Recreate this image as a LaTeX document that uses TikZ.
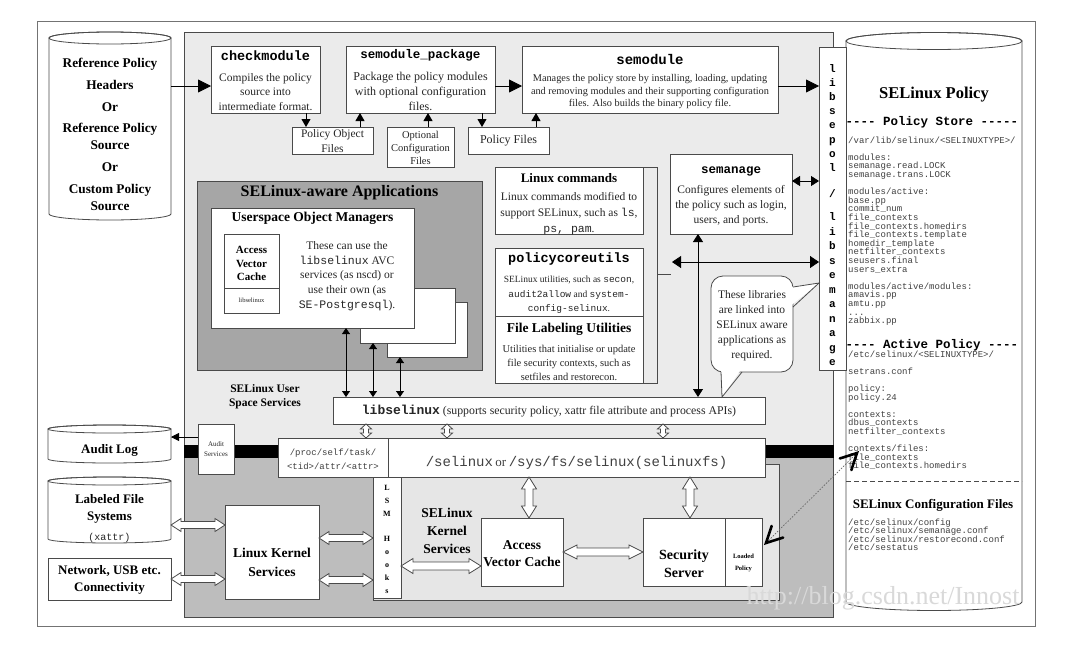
\documentclass[tikz,border=0pt]{standalone}
\usepackage{fontspec}
\setmainfont{Liberation Serif}
\setmonofont{Liberation Mono}
\usetikzlibrary{arrows.meta,calc}
\definecolor{usr}{HTML}{EBEBEB}
\definecolor{app}{HTML}{A6A6A6}
\definecolor{krn}{HTML}{BDBDBD}
\definecolor{kin}{HTML}{E6E6E6}
\definecolor{ln}{HTML}{4A4A4A}
\newcommand{\fs}[2]{\fontsize{#1}{#2}\selectfont}
\newcommand{\bxn}[6][]{\node[bx,#1,minimum width={#5pt-#3pt},minimum height={#6pt-#4pt}] (#2) at ({(#3+#5)/2},{(#4+#6)/2}) {};}
\newcommand{\cyl}[6]{%
 \path[fill=white,draw=ln,line width=0.8pt] (#2,#4) -- (#2,#5) arc[start angle=180,end angle=0,x radius={(#3-#2)/2},y radius=#6] -- (#3,#4) arc[start angle=0,end angle=-180,x radius={(#3-#2)/2},y radius=#6] -- cycle;
 \draw[ln,line width=0.8pt] ({(#2+#3)/2},#4) ellipse[x radius={(#3-#2)/2},y radius=#6];
 \node[inner sep=0pt,outer sep=0pt,minimum width={#3pt-#2pt},minimum height={#5pt-#4pt+2*#6pt}] (#1) at ({(#2+#3)/2},{(#4+#5)/2}) {};}
\newcommand{\hollow}[5]{%
 \coordinate (hA) at (#1);\coordinate (hB) at (#2);
 \filldraw[fill=white,draw=ln,line width=0.8pt,line join=miter]
 (hA) -- ($(hA)!#3!(hB)!#4!90:(hB)$) -- ($(hA)!#3!(hB)!#5!90:(hB)$)
 -- ($(hB)!#3!(hA)!#5!-90:(hA)$) -- ($(hB)!#3!(hA)!#4!-90:(hA)$)
 -- (hB) -- ($(hB)!#3!(hA)!#4!90:(hA)$) -- ($(hB)!#3!(hA)!#5!90:(hA)$)
 -- ($(hA)!#3!(hB)!#5!-90:(hB)$) -- ($(hA)!#3!(hB)!#4!-90:(hB)$) -- cycle;}
\begin{document}
\begin{tikzpicture}[x=1pt,y=-1pt,
 bx/.style={draw=ln,fill=white,line width=0.8pt,inner sep=0pt,outer sep=0pt},
 tx/.style={inner sep=0pt,align=center,text=black!85},
 ttl/.style={inner sep=0pt,align=center,text=black},
 lst/.style={inner sep=0pt,anchor=base west,text=black!75,font=\ttfamily\fs{9}{9}},
 vlet/.style={inner sep=0pt,anchor=base,font=\ttfamily\bfseries\fs{11}{11}},
 arrB/.style={draw=black,line width=0.8pt,-{Triangle[length=13pt,width=13pt]}},
 arrS/.style={draw=black,line width=0.8pt,-{Triangle[length=8pt,width=9pt]}},
 darrM/.style={draw=black,line width=0.8pt,{Triangle[length=9pt,width=12pt]}-{Triangle[length=9pt,width=12pt]}},
 darrV/.style={draw=black,line width=0.8pt,{Triangle[length=8pt,width=10pt]}-{Triangle[length=8pt,width=10pt]}},
 darrS/.style={draw=black,line width=0.8pt,{Triangle[length=6pt,width=8pt]}-{Triangle[length=6pt,width=8pt]}},
 vhead/.style={draw=black,line width=2.6pt,line join=miter,line cap=round}]
\useasboundingbox (0,0) rectangle (1071,648);
\fill[white] (0,0) rectangle (1071,648);
% frames and regions
\bxn[draw=black!55,line width=1pt]{frame}{37}{21}{1035}{626}
\bxn[fill=usr]{usrsp}{184}{32}{833}{617}
\bxn[fill=krn]{kern}{184}{457}{833}{617}
\bxn[fill=black,draw=black]{bar}{184}{445}{833}{457}
\bxn[fill=kin]{kinr}{373}{464}{779}{600}
% left cylinders
\cyl{refc}{49}{171}{38}{214}{6}
\node[ttl,font=\bfseries\fs{13.3}{17}] (reftx) at (110,134.5) {Reference Policy\\[5pt]Headers\\[5pt]Or\\[4pt]Reference Policy\\Source\\[5pt]Or\\[5pt]Custom Policy\\Source};
\cyl{alog}{48}{171}{429}{459}{4}
\node[ttl,font=\bfseries\fs{13}{16}] (alogt) at (109.5,450) {Audit Log};
\cyl{lfs}{48}{171}{481}{539}{4}
\node[ttl,font=\bfseries\fs{13}{17}] (lfst) at (109.5,508.5) {Labeled File\\Systems};
\node[tx,font=\ttfamily\fs{10}{12}] (lfsx) at (109.5,538) {(xattr)};
\bxn{net}{48}{558}{171}{600}
\node[ttl,font=\bfseries\fs{13}{17}] (nett) at (109.5,580) {Network, USB etc.\\Connectivity};
% policy cylinder
\cyl{pol}{846}{1022}{41}{602}{8.5}
\node[ttl,font=\bfseries\fs{16.5}{18}] (polt) at (934,95) {SELinux Policy};
\node[ttl,font=\ttfamily\bfseries\fs{12.5}{14}] (pstore) at (932,122) {---- Policy Store -----};
\foreach \t [count=\i from 0] in {{/var/lib/selinux/<SELINUXTYPE>/},{},{modules:},{semanage.read.LOCK},{semanage.trans.LOCK},{},{modules/active:},{base.pp},{commit\_num},{file\_contexts},{file\_contexts.homedirs},{file\_contexts.template},{homedir\_template},{netfilter\_contexts},{seusers.final},{users\_extra},{},{modules/active/modules:},{amavis.pp},{amtu.pp},{.\kern0pt.\kern0pt.},{zabbix.pp}}
 \node[lst] (la\i) at (848,{143+\i*8.6}) {\t};
\node[ttl,font=\ttfamily\bfseries\fs{12.5}{14}] (pact) at (932,345) {---- Active Policy ----};
\foreach \t [count=\i from 0] in {{/etc/selinux/<SELINUXTYPE>/},{},{setrans.conf},{},{policy:},{policy.24},{},{contexts:},{dbus\_contexts},{netfilter\_contexts},{},{contexts/files:},{file\_contexts},{file\_contexts.homedirs}}
 \node[lst] (lb\i) at (848,{357+\i*8.6}) {\t};
\draw[ln,line width=0.8pt,dash pattern=on 5pt off 3pt] (pol.west |- 0,481) -- (pol.east |- 0,481);
\node[ttl,font=\bfseries\fs{13}{15}] (cfgt) at (933,505) {SELinux Configuration Files};
\foreach \t [count=\i from 0] in {{/etc/selinux/config},{/etc/selinux/semanage.conf},{/etc/selinux/restorecond.conf},{/etc/sestatus}}
 \node[lst] (lc\i) at (848,{525+\i*8.6}) {\t};
% libsepol / libsemanage
\bxn{lsp}{819}{47}{846}{370}
\foreach \ch [count=\i from 0] in {l,i,b,s,e,p,o,l}
 \node[vlet] (lspa\i) at (832.5,{72.5+\i*14.1}) {\ch};
\node[vlet] (lspsl) at (832.5,197.5) {/};
\foreach \ch [count=\i from 0] in {l,i,b,s,e,m,a,n,a,g,e}
 \node[vlet] (lspb\i) at (832.5,{220.5+\i*14.5}) {\ch};
% top tool chain
\bxn{chk}{211}{46}{320}{113}
\node[ttl,font=\ttfamily\bfseries\fs{13.5}{16}] (chkt) at (265.5,56) {checkmodule};
\node[tx,font=\fs{11.5}{14.5}] (chkb) at (265.5,92) {Compiles the policy\\source into\\intermediate format.};
\bxn{smp}{346}{46}{495}{113}
\node[ttl,font=\ttfamily\bfseries\fs{12.5}{16}] (smpt) at (420.5,55) {semodule\_package};
\node[tx,font=\fs{12}{15}] (smpb) at (420.5,91) {Package the policy modules\\with optional configuration\\files.};
\bxn{smd}{522}{46}{778}{113}
\node[ttl,font=\ttfamily\bfseries\fs{14}{16}] (smdt) at (650,59) {semodule};
\node[tx,font=\fs{10.3}{12.5}] (smdb) at (650,92) {Manages the policy store by installing, loading, updating\\and removing modules and their supporting configuration\\files. Also builds the binary policy file.};
\bxn{pof}{292}{127}{373}{154}
\node[tx,font=\fs{11.5}{15}] (poft) at (332.5,141) {Policy Object\\Files};
\bxn{ocf}{387}{127}{454}{167}
\node[tx,font=\fs{10.5}{13}] (ocft) at (420.5,148) {Optional\\Configuration\\Files};
\bxn{pf}{468}{127}{549}{154}
\node[tx,font=\fs{12}{14}] (pft) at (508.5,141) {Policy Files};
% SELinux-aware applications
\bxn[fill=app]{apps}{197}{181}{482}{370}
\node[ttl,font=\bfseries\fs{16}{18}] (appst) at (339.5,193) {SELinux-aware Applications};
\bxn{bk3}{387}{302}{467}{357}
\bxn{bk2}{360}{288}{455}{343}
\bxn{uom}{211}{208}{414}{328}
\node[ttl,font=\bfseries\fs{13.5}{16}] (uomt) at (312.5,218) {Userspace Object Managers};
\bxn{uavc}{224}{234}{279}{313}
\draw[ln,line width=0.8pt] (uavc.west |- 0,288) -- (uavc.east |- 0,288);
\node[ttl,font=\bfseries\fs{11}{13.5}] (uavct) at (251.5,263.5) {Access\\Vector\\Cache};
\node[tx,font=\fs{6.5}{8}] (uavcl) at (251.5,300) {libselinux};
\node[tx,font=\fs{11.5}{14.75}] (uomb) at (347,276) {These can use the\\{\ttfamily libselinux} AVC\\services (as nscd) or\\use their own (as\\{\ttfamily SE-Postgresql}).};
% commands group
\node[inner sep=0pt,outer sep=0pt,minimum width=162pt,minimum height=216pt] (cgrp) at (576,275) {};
\draw[ln,line width=0.8pt] (cgrp.north west) -- (cgrp.north east) -- (cgrp.south east) -- (cgrp.south west);
\coordinate (ctick) at (671,274);
\draw[ln,line width=0.8pt] (cgrp.east |- ctick) -- (ctick);
\bxn{lcmd}{495}{167}{643}{234}
\node[ttl,font=\bfseries\fs{13}{15}] (lcmdt) at (569,178) {Linux commands};
\node[tx,font=\fs{11.5}{16}] (lcmdb) at (569,213.5) {Linux commands modified to\\support SELinux, such as {\ttfamily ls},\\{\ttfamily ps, pam}.};
\bxn{pcu}{495}{248}{643}{316}
\node[ttl,font=\ttfamily\bfseries\fs{13.5}{16}] (pcut) at (569,259) {policycoreutils};
\node[tx,font=\fs{9.5}{14.5}] (pcub) at (569,295) {SELinux utilities, such as {\ttfamily secon},\\{\ttfamily audit2allow} and {\ttfamily system-}\\{\ttfamily config-selinux}.};
\bxn{flu}{495}{316}{643}{383}
\node[ttl,font=\bfseries\fs{13.5}{16}] (flut) at (569,329) {File Labeling Utilities};
\node[tx,font=\fs{10.5}{14}] (flub) at (569,362.5) {Utilities that initialise or update\\file security contexts, such as\\setfiles and restorecon.};
% semanage
\bxn{sem}{670}{154}{792}{234}
\node[ttl,font=\ttfamily\bfseries\fs{12.5}{14}] (semt) at (731,171) {semanage};
\node[tx,font=\fs{11.5}{15}] (semb) at (731,205.5) {Configures elements of\\the policy such as login,\\users, and ports.};
% libselinux, proc, selinuxfs
\node[ttl,font=\bfseries\fs{11.5}{14}] (usst) at (265,397) {SELinux User\\Space Services};
\bxn{lsel}{333}{397}{765}{424}
\node[tx,font=\fs{11.8}{13}] (lselt) at (549,411) {{\ttfamily\bfseries\fs{13}{13}libselinux} (supports security policy, xattr file attribute and process APIs)};
\bxn{proc}{278}{438}{388}{477}
\node[tx,font=\ttfamily\fs{9}{14},text=black!75] (proct) at (333,459) {/proc/self/task/\\<tid>/attr/<attr>};
\bxn{sfs}{388}{438}{765}{477}
\node[tx,text=black!75] (sfst) at (576.5,463) {{\ttfamily\fs{14}{16}/selinux} {\fs{13}{16}or} {\ttfamily\fs{14}{16}/sys/fs/selinux(selinuxfs)}};
\bxn{aud}{198}{424}{234}{474}
\node[tx,font=\fs{7}{10}] (audt) at (216,449) {Audit\\Services};
% speech bubble
\node[bx,rounded corners=12pt,minimum width=82pt,minimum height=96pt] (bub) at (752,324) {};
\coordinate (tipR) at (lsp.west |- 0,283);
\coordinate (tipB) at (lsel.north -| 722,0);
\fill[white] (789,287) -- (tipR) -- (789,307) -- cycle;
\draw[ln,line width=0.8pt] (bub.east |- 0,287) -- (tipR) -- (bub.east |- 0,307);
\fill[white] (721,368) -- (tipB) -- (742,368) -- cycle;
\draw[ln,line width=0.8pt] (721,371.8) -- (tipB) -- (742,372);
\node[tx,font=\fs{11.5}{15}] (bubt) at (752,326) {These libraries\\are linked into\\SELinux aware\\applications as\\required.};
% kernel
\bxn{lks}{225}{505}{319}{599}
\node[ttl,font=\bfseries\fs{13.5}{19}] (lkst) at (272,562.5) {Linux Kernel\\Services};
\bxn{lsm}{373}{477}{401}{598}
\foreach \ch/\yy in {L/490,S/503,M/516,H/541,o/554,o/567,k/580,s/593}
 \node[inner sep=0pt,anchor=base,font=\bfseries\fs{8}{8}] (lsm\yy) at (387,\yy) {\ch};
\node[ttl,font=\bfseries\fs{13.5}{18}] (skst) at (447,531) {SELinux\\Kernel\\Services};
\bxn{avc}{481}{518}{563}{586}
\node[ttl,font=\bfseries\fs{13.5}{17}] (avct) at (522,553.5) {Access\\Vector Cache};
\bxn{ss}{643}{518}{725}{586}
\node[ttl,font=\bfseries\fs{14}{18}] (sst) at (684,564) {Security\\Server};
\bxn{lp}{725}{518}{762}{586}
\node[ttl,font=\bfseries\fs{6.5}{12}] (lpt) at (743.5,563) {Loaded\\Policy};
% solid arrows
\draw[arrB] (refc.east |- 0,86) -- (chk.west |- 0,86);
\draw[arrB] (smp.east |- 0,86) -- (smd.west |- 0,86);
\draw[arrB] (smd.east |- 0,86) -- (lsp.west |- 0,86);
\draw[arrS] (chk.south -| 306,0) -- (pof.north -| 306,0);
\draw[arrS] (pof.north -| 360,0) -- (smp.south -| 360,0);
\draw[arrS] (ocf.north -| 428,0) -- (smp.south -| 428,0);
\draw[arrS] (smp.south -| 482,0) -- (pf.north -| 482,0);
\draw[arrS] (pf.north -| 536,0) -- (smd.south -| 536,0);
\draw[darrV] (sem.east |- 0,181) -- (lsp.west |- 0,181);
\coordinate (cbrk) at (672,262);
\draw[darrM] (cbrk) -- (lsp.west |- cbrk);
\draw[darrV] (sem.south -| 698,0) -- (lsel.north -| 698,0);
\draw[darrS] (uom.south -| 346,0) -- (lsel.north -| 346,0);
\draw[darrS] (bk2.south -| 373,0) -- (lsel.north -| 373,0);
\draw[darrS] (bk3.south -| 400,0) -- (lsel.north -| 400,0);
\draw[draw=black,line width=0.8pt,-{Triangle[length=8pt,width=8pt]}] (aud.west |- 0,437) -- (alog.east |- 0,437);
% hollow arrows
\hollow{lsel.south -| 366,0}{proc.north -| 366,0}{5pt}{5.5pt}{2.5pt}
\hollow{lsel.south -| 447,0}{sfs.north -| 447,0}{5pt}{5.5pt}{2.5pt}
\hollow{lsel.south -| 663,0}{sfs.north -| 663,0}{5pt}{5.5pt}{2.5pt}
\hollow{sfs.south -| 529,0}{avc.north -| 529,0}{12pt}{7.5pt}{4pt}
\hollow{sfs.south -| 690,0}{ss.north -| 690,0}{12pt}{7.5pt}{4pt}
\hollow{lfs.east |- 0,525}{lks.west |- 0,525}{10pt}{6.5pt}{3.5pt}
\hollow{net.east |- 0,579}{lks.west |- 0,579}{10pt}{6.5pt}{3.5pt}
\hollow{lks.east |- 0,538}{lsm.west |- 0,538}{10pt}{6.5pt}{3.5pt}
\hollow{lks.east |- 0,580}{lsm.west |- 0,580}{10pt}{6.5pt}{3.5pt}
\hollow{lsm.east |- 0,566}{avc.west |- 0,566}{12pt}{7.5pt}{4pt}
\hollow{avc.east |- 0,552}{ss.west |- 0,552}{14pt}{7pt}{4pt}
% dotted link with heavy open heads
\coordinate (dA) at (857,453);
\coordinate (dB) at (766,543);
\draw[black!60,line width=0.7pt,dash pattern=on 1.5pt off 1.5pt] (dA) -- (dB);
\draw[vhead] ($(dA)!18pt!27:(dB)$) -- (dA) -- ($(dA)!18pt!-27:(dB)$);
\draw[vhead] ($(dB)!18pt!27:(dA)$) -- (dB) -- ($(dB)!18pt!-27:(dA)$);
% watermark
\node[inner sep=0pt,font=\fs{26}{26},text=black!15] (wm) at (883,598) {http://blog.csdn.net/Innost};
\end{tikzpicture}
\end{document}
